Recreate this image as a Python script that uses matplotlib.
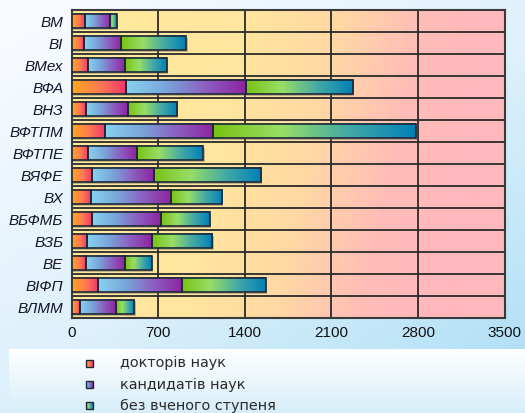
import numpy as np
import matplotlib
matplotlib.use("Agg")
import matplotlib.pyplot as plt
import matplotlib.transforms as mtransforms
from matplotlib.colors import LinearSegmentedColormap
from matplotlib.patches import Rectangle

# Staff of departments: doctors / candidates / without a degree
departments = ['ВМ', 'ВІ', 'ВМех', 'ВФА', 'ВНЗ', 'ВФТПМ', 'ВФТПЕ',
               'ВЯФЕ', 'ВХ', 'ВБФМБ', 'ВЗБ', 'ВЕ', 'ВІФП', 'ВЛММ']
doctors = [109, 98, 136, 443, 115, 268, 136, 163, 158, 168, 128, 117, 217, 71]
candidates = [205, 305, 296, 964, 339, 873, 396, 501, 643, 553, 522, 313, 678, 286]
no_degree = [51, 525, 337, 868, 398, 1640, 533, 865, 415, 396, 488, 218, 677, 151]
xticks = [0, 700, 1400, 2100, 2800, 3500]
legend_labels = ['докторів наук', 'кандидатів наук', 'без вченого ступеня']

cmaps = [
    LinearSegmentedColormap.from_list('doc', ['#FFA61C', '#FF7C52', '#F0336E']),
    LinearSegmentedColormap.from_list('cand', ['#88D2F0', '#79A6DA', '#8C5EC0', '#8E24A0']),
    LinearSegmentedColormap.from_list('none', ['#78C214', '#98DE66', '#44A9A6', '#0080B8']),
]
edge = '#1C2836'
bar_h = 0.64

fig = plt.figure(figsize=(5.25, 4.13), dpi=100)

# page background: white top-left fading to light blue
bg = fig.add_axes([0, 0, 1, 1], zorder=-10)
yy, xx = np.mgrid[0:1:200j, 0:1:200j]
tt = np.clip(0.55 * yy + 0.45 * xx - 0.05, 0, 1)
bg_cmap = LinearSegmentedColormap.from_list('bg', ['#F8FBFF', '#DDF0FB', '#A9DDF5'])
bg.imshow(tt, cmap=bg_cmap, aspect='auto', extent=(0, 1, 0, 1), origin='upper')
bg.axis('off')

# legend panel
leg = fig.add_axes([9 / 525, 0, 1 - 9 / 525, 64 / 413], zorder=-5)
lg = np.linspace(0, 1, 100)[:, None] * np.ones((1, 10))
leg.imshow(lg, cmap=LinearSegmentedColormap.from_list('lg', ['#FFFFFF', '#D6EEF9']),
           aspect='auto', extent=(0, 1, 0, 1), origin='upper')
leg.set_xlim(0, 1)
leg.set_ylim(0, 1)
leg.axis('off')

ax = fig.add_axes([71.5 / 525, 95 / 413, 433 / 525, 307.7 / 413])
n = len(departments)
ax.set_xlim(0, 3500)
ax.set_ylim(n - 0.5, -0.5)

# plot area fill: yellow to pink, slightly diagonal
py, px = np.mgrid[0:1:120j, 0:1:300j]
pt = px + 0.15 * py
plot_cmap = LinearSegmentedColormap.from_list(
    'area', [(0, '#FFEB9C'), (0.42, '#FFE59E'), (0.62, '#FFD8A4'), (0.82, '#FFBCB8'), (1, '#FFB8BC')])
ax.imshow(np.clip(pt, 0, 1), cmap=plot_cmap, aspect='auto',
          extent=(0, 3500, n - 0.5, -0.5), origin='upper', zorder=0)

# grid
for x in xticks[1:-1]:
    ax.axvline(x, color='#2A2A2A', lw=1.3, zorder=1)
for k in range(1, n):
    ax.axhline(k - 0.5, color='#2A2A2A', lw=1.3, zorder=1)

shadow = mtransforms.offset_copy(ax.transData, fig=fig, x=1.5, y=-1.5, units='dots')
grad = np.linspace(0, 1, 256)[None, :]

for i in range(n):
    segs = [doctors[i], candidates[i], no_degree[i]]
    left = 0
    total = sum(segs)
    ax.add_patch(Rectangle((0, i - bar_h / 2), total, bar_h, transform=shadow,
                           facecolor='#6A6A6A', alpha=0.4, lw=0, zorder=2))
    for w, cm in zip(segs, cmaps):
        ax.imshow(grad, cmap=cm, aspect='auto',
                  extent=(left, left + w, i + bar_h / 2, i - bar_h / 2), zorder=3)
        ax.barh(i, w, left=left, height=bar_h, facecolor='none',
                edgecolor=edge, lw=1.2, zorder=4)
        left += w

ax.set_xlim(0, 3500)
ax.set_ylim(n - 0.5, -0.5)
ax.set_xticks(xticks)
ax.set_xticklabels([str(v) for v in xticks], fontsize=11, family='Liberation Sans', color='#111111')
ax.set_yticks(range(n))
ax.set_yticklabels(departments, fontsize=11, family='Liberation Sans', style='italic', color='#15152A')
ax.tick_params(length=0, pad=6)
ax.tick_params(axis='x', pad=6)
for s in ax.spines.values():
    s.set_color('#3A3A3A')
    s.set_linewidth(1.5)

# legend entries
for j, (lab, cm) in enumerate(zip(legend_labels, cmaps)):
    yc = 1 - (14.5 + 21 * j) / 64
    leg.imshow(grad, cmap=cm, aspect='auto',
               extent=(76.5 / 516, 83.5 / 516, yc - 3.5 / 64, yc + 3.5 / 64), zorder=3)
    leg.add_patch(Rectangle((76.5 / 516, yc - 3.5 / 64), 7 / 516, 7 / 64, facecolor='none',
                            edgecolor=edge, lw=1.0, zorder=4))
    leg.text(111 / 516, yc, lab, fontsize=10.4, family='DejaVu Sans', color='#2A2A2A',
             va='center', ha='left')
leg.set_xlim(0, 1)
leg.set_ylim(0, 1)

fig.savefig('out.png', dpi=100)
